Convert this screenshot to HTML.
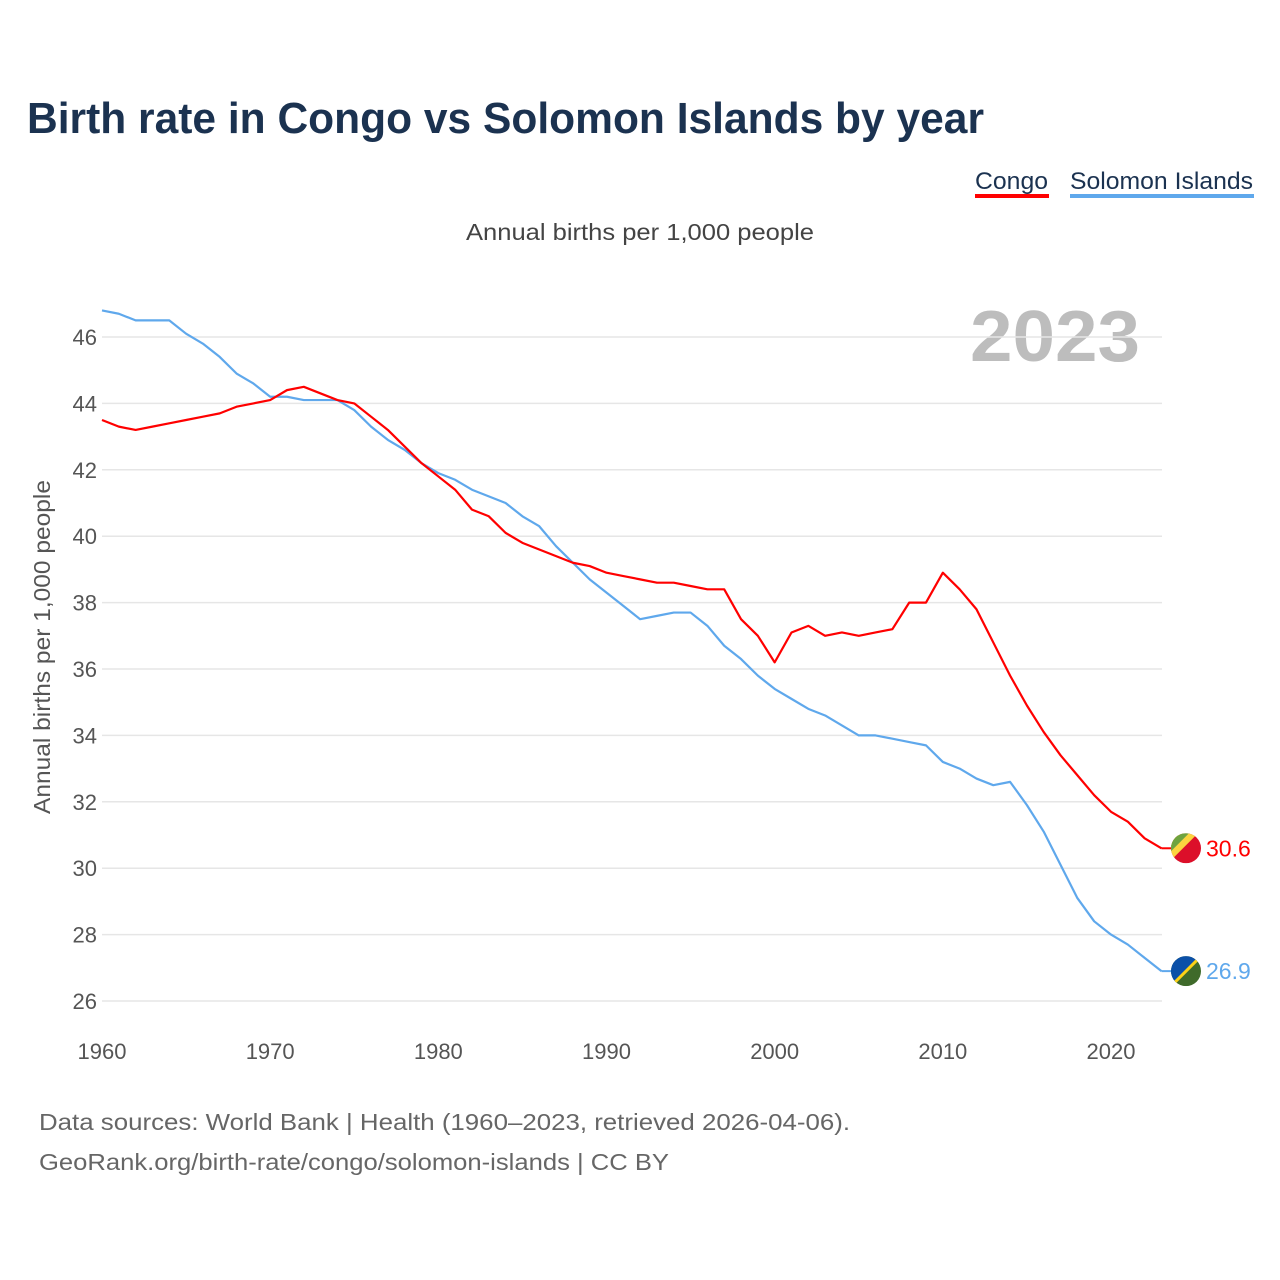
<!DOCTYPE html>
<html><head><meta charset="utf-8"><style>
body{margin:0;background:#fff;font-family:"Liberation Sans",sans-serif;}
#wrap{position:relative;width:1280px;height:1280px;overflow:hidden;}
</style></head><body><div id="wrap">
<svg id="chart" width="1280" height="1280" font-family="Liberation Sans, sans-serif"></svg>
</div>
<script>
const years=[];for(let y=1960;y<=2023;y++)years.push(y);
const congo=[43.5,43.3,43.2,43.3,43.4,43.5,43.6,43.7,43.9,44.0,44.1,44.4,44.5,44.3,44.1,44.0,43.6,43.2,42.7,42.2,41.8,41.4,40.8,40.6,40.1,39.8,39.6,39.4,39.2,39.1,38.9,38.8,38.7,38.6,38.6,38.5,38.4,38.4,37.5,37.0,36.2,37.1,37.3,37.0,37.1,37.0,37.1,37.2,38.0,38.0,38.9,38.4,37.8,36.8,35.8,34.9,34.1,33.4,32.8,32.2,31.7,31.4,30.9,30.6];
const solomon=[46.8,46.7,46.5,46.5,46.5,46.1,45.8,45.4,44.9,44.6,44.2,44.2,44.1,44.1,44.1,43.8,43.3,42.9,42.6,42.2,41.9,41.7,41.4,41.2,41.0,40.6,40.3,39.7,39.2,38.7,38.3,37.9,37.5,37.6,37.7,37.7,37.3,36.7,36.3,35.8,35.4,35.1,34.8,34.6,34.3,34.0,34.0,33.9,33.8,33.7,33.2,33.0,32.7,32.5,32.6,31.9,31.1,30.1,29.1,28.4,28.0,27.7,27.3,26.9];
const yTicks=[26,28,30,32,34,36,38,40,42,44,46];
const xTicks=[1960,1970,1980,1990,2000,2010,2020];

const NS="http://www.w3.org/2000/svg";
const svg=document.getElementById('chart');
const X=v=>102+(v-1960)*(1111-102)/60;
const Y=v=>1001-(v-26)*(1001-337)/20;
function mk(tag,attrs,text){const e=document.createElementNS(NS,tag);for(const k in attrs)e.setAttribute(k,attrs[k]);if(text!==undefined)e.textContent=text;svg.appendChild(e);return e;}

let t=mk('text',{x:27,y:133,'font-size':44,'font-weight':'bold',fill:'#1b3250',textLength:957,lengthAdjust:'spacingAndGlyphs'},'Birth rate in Congo vs Solomon Islands by year');


t=mk('text',{x:975,y:189,'font-size':24,fill:'#1b3250',textLength:73,lengthAdjust:'spacingAndGlyphs'},'Congo');


let r=mk('rect',{x:975,y:194,width:74,height:4,fill:'#ff0000'});


t=mk('text',{x:1070,y:189,'font-size':24,fill:'#1b3250',textLength:183,lengthAdjust:'spacingAndGlyphs'},'Solomon Islands');


r=mk('rect',{x:1070,y:194,width:184,height:4,fill:'#5fa8ec'});


t=mk('text',{x:466,y:240,'font-size':23,fill:'#444',textLength:348,lengthAdjust:'spacingAndGlyphs'},'Annual births per 1,000 people');


t=mk('text',{x:970,y:361,'font-size':72,'font-weight':'bold',fill:'#bdbdbd',textLength:170,lengthAdjust:'spacingAndGlyphs'},'2023');



yTicks.forEach(v=>{
  const g=mk('line',{x1:102,x2:1162,y1:Y(v),y2:Y(v),stroke:'#e6e6e6','stroke-width':1.5});
  
  
  const l=mk('text',{x:97,y:Y(v)+8,'font-size':22,fill:'#555','text-anchor':'end'},v);
  
  
});
xTicks.forEach(v=>{
  const l=mk('text',{x:X(v),y:1059,'font-size':22,fill:'#555','text-anchor':'middle'},v);
  
  
});
t=mk('text',{x:-167,y:0,'font-size':23,fill:'#555',textLength:334,lengthAdjust:'spacingAndGlyphs',transform:'translate(50,647) rotate(-90)'},'Annual births per 1,000 people');



function line(data,color,name){
  const p=mk('polyline',{points:data.map((v,i)=>X(years[i])+','+Y(v)).join(' '),fill:'none',stroke:color,'stroke-width':2.2,'stroke-linejoin':'round'});
  
  
}
line(solomon,'#5fa8ec','solomon-islands-line');
line(congo,'#ff0000','congo-line');

const cx=1186;
let cy=Y(congo[congo.length-1]);
mk('line',{x1:X(2023),x2:cx-14,y1:cy,y2:cy,stroke:'#ff0000','stroke-width':2});
mk('defs',{}).innerHTML='<clipPath id="c1"><circle cx="'+cx+'" cy="'+cy+'" r="15"/></clipPath><clipPath id="c2"><circle cx="'+cx+'" cy="'+Y(solomon[solomon.length-1])+'" r="15"/></clipPath>';
let g=mk('g',{'clip-path':'url(#c1)'});


g.innerHTML='<rect x="'+(cx-15)+'" y="'+(cy-15)+'" width="30" height="30" fill="#dc0f2a"/><polygon points="'+(cx-15)+','+(cy-15)+' '+(cx+12)+','+(cy-15)+' '+(cx-15)+','+(cy+12)+'" fill="#fbd43f"/><polygon points="'+(cx-15)+','+(cy-15)+' '+(cx+3)+','+(cy-15)+' '+(cx-15)+','+(cy+3)+'" fill="#6ea33f"/>';
t=mk('text',{x:1206,y:cy+8,'font-size':23,fill:'#ff0000'},congo[congo.length-1].toFixed(1));



cy=Y(solomon[solomon.length-1]);
mk('line',{x1:X(2023),x2:cx-14,y1:cy,y2:cy,stroke:'#5fa8ec','stroke-width':2});
g=mk('g',{'clip-path':'url(#c2)'});


g.innerHTML='<rect x="'+(cx-15)+'" y="'+(cy-15)+'" width="30" height="30" fill="#3f6a2a"/><polygon points="'+(cx-15)+','+(cy-15)+' '+(cx+15)+','+(cy-15)+' '+(cx-15)+','+(cy+15)+'" fill="#0b50a8"/><line x1="'+(cx+15)+'" y1="'+(cy-15)+'" x2="'+(cx-15)+'" y2="'+(cy+15)+'" stroke="#fcd116" stroke-width="3"/>';
t=mk('text',{x:1206,y:cy+8,'font-size':23,fill:'#5fa8ec'},solomon[solomon.length-1].toFixed(1));



t=mk('text',{x:39,y:1130,'font-size':23,fill:'#666',textLength:811,lengthAdjust:'spacingAndGlyphs'},'Data sources: World Bank | Health (1960–2023, retrieved 2026-04-06).');


t=mk('text',{x:39,y:1170,'font-size':23,fill:'#666',textLength:630,lengthAdjust:'spacingAndGlyphs'},'GeoRank.org/birth-rate/congo/solomon-islands | CC BY');


</script></body></html>
